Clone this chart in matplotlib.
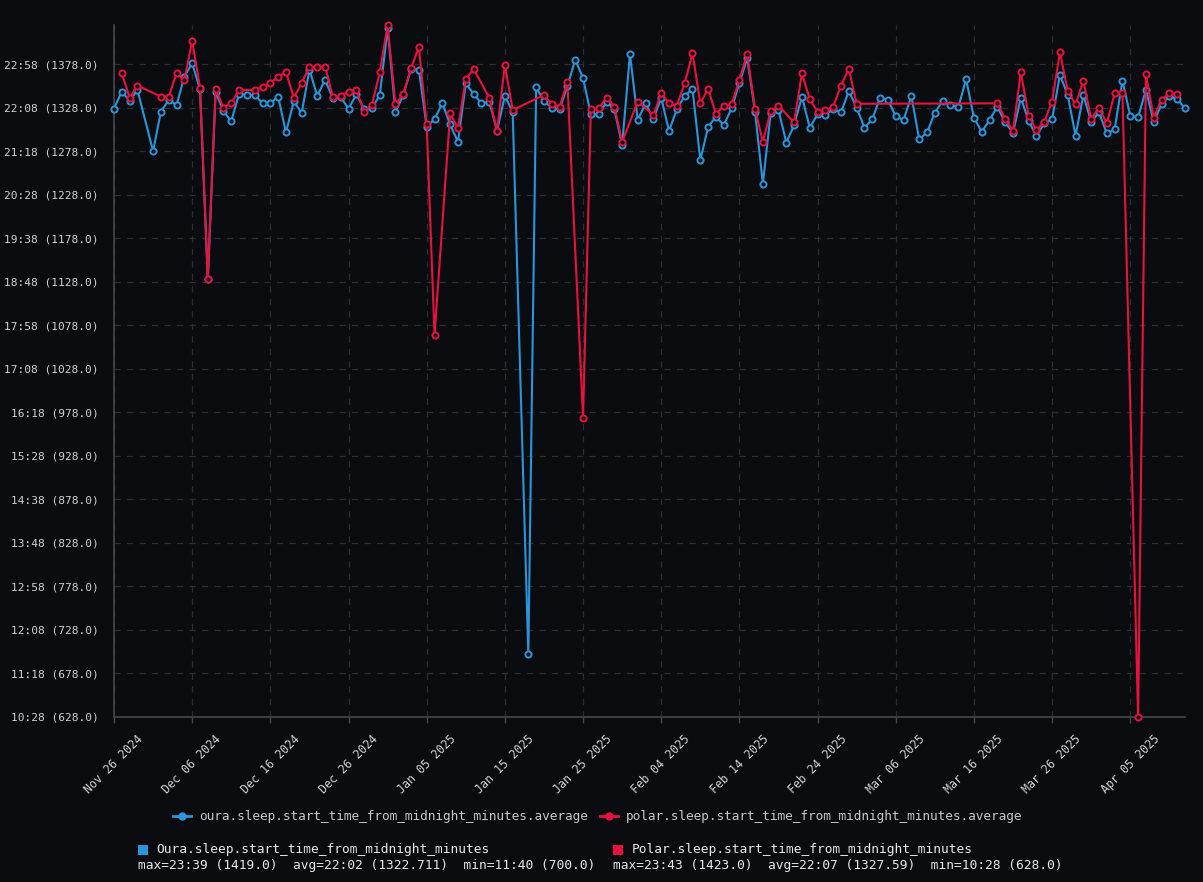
import matplotlib
matplotlib.use("Agg")
import matplotlib.pyplot as plt
from matplotlib.patches import Rectangle
from matplotlib.lines import Line2D
import numpy as np
import pandas as pd

START_DATE = "2024-11-26"
N_DAYS = 138

oura_values = [
    1327, 1346.5, 1335.7, 1348.4, None, 1278, 1323.4, 1336.8, 1331, 1363.8,
    1379, 1349, 1131, 1346.5, 1324, 1312.6, 1343.8, 1343, 1342.6, 1333,
    1333, 1340.7, 1299.5, 1335.7, 1321.5, 1371.5, 1341.5, 1360, 1338.8, 1340.7,
    1326.5, 1343.4, 1326.5, 1327.5, 1342.6, 1419, 1322.6, 1342.6, 1372.6, 1371.5,
    1306, 1314.9, 1333, 1308.8, 1288.8, 1356, 1343.8, 1333, 1334.9, 1301.5,
    1341.8, 1322.6, None, 700, 1351.5, 1335.7, 1328, 1326, 1353, 1383,
    1361.8, 1320.3, 1320.7, 1334.2, 1326.5, 1285, 1389.5, 1313.8, 1333, 1315,
    1339.5, 1301, 1326.5, 1341.5, 1349.5, 1267.6, 1306, 1317.6, 1308, 1327.2,
    1356, 1385, 1323.4, 1240.7, 1321.5, 1325.3, 1288, 1308, 1340.7, 1305,
    1320.3, 1319.5, 1326.5, 1322.6, 1347.2, 1328, 1305, 1315, 1339.5, 1336.8,
    1318.4, 1313.8, 1341.5, 1291.8, 1299.5, 1322.2, 1335.7, 1331, 1328.4, 1360.7,
    1316.5, 1300.3, 1313.8, 1329.2, 1311, 1299.2, 1339.5, 1312.6, 1295.7, 1310,
    1315, 1365.7, 1342.6, 1295.7, 1342.6, 1311.8, 1322.6, 1298.4, 1303, 1359.2,
    1318.4, 1316.9, 1348.4, 1311.8, 1331.8, 1341.5, 1338, 1327.2,
]

polar_values = [
    None, 1367.6, 1339.5, 1353.4, None, None, 1340.7, 1340.7, 1367.6, 1360,
    1405, 1351, 1131, 1349.5, 1328, 1333, 1348.4, None, 1348.4, 1352,
    1356, 1363.8, 1368.8, 1339.5, 1356, 1375.3, 1374.5, 1375.3, 1340.7, 1341.8,
    1346.5, 1348.4, 1323.4, 1331.5, 1368.8, 1423, 1331.8, 1343.4, 1373.4, 1397.6,
    1308.8, 1066.8, None, 1321.5, 1304.2, 1360.7, 1372.6, None, 1339.5, 1301.5,
    1377.2, 1325.3, None, None, None, 1342.6, 1331.8, 1329.2, 1357.2, None,
    971.4, 1326, 1327.2, 1339.5, 1329.2, 1288.8, None, 1335, None, 1319.5,
    1344.5, 1333, 1330.3, 1356, 1390.7, 1333, 1349.5, 1320.7, 1330.3, 1331.8,
    1360, 1389.5, 1326.5, 1288.8, 1324, 1330.3, None, 1311, 1367.6, 1337.6,
    1323.4, 1325.3, 1329.2, 1353.4, 1372.6, 1332.5, None, None, None, None,
    None, None, None, None, None, None, None, None, None, None,
    None, None, None, 1333, 1315, 1301.5, 1368.8, 1318.4, 1302.2, 1311.8,
    1335, 1391.8, 1347.2, 1331.8, 1358.8, 1315, 1328, 1310, 1344.5, 1344.5,
    None, 628, 1366.5, 1316.5, 1336.8, 1344.5, 1343.4, None,
]

series_labels = [
    "oura.sleep.start_time_from_midnight_minutes.average",
    "polar.sleep.start_time_from_midnight_minutes.average",
]
stats_titles = [
    "Oura.sleep.start_time_from_midnight_minutes",
    "Polar.sleep.start_time_from_midnight_minutes",
]
stats_lines = [
    "max=23:39 (1419.0)  avg=22:02 (1322.711)  min=11:40 (700.0)",
    "max=23:43 (1423.0)  avg=22:07 (1327.59)  min=10:28 (628.0)",
]

BG = "#0b0c0f"
BLUE = "#2a95da"
RED = "#e8113f"
TXT = "#d2d2d2"
GRID = "#2c2d31"
MONO = ["DejaVu Sans Mono"]

dates = pd.date_range(START_DATE, periods=N_DAYS, freq="D")
oura = pd.Series(oura_values, index=dates, dtype=float)
polar = pd.Series(polar_values, index=dates, dtype=float)

fig = plt.figure(figsize=(12.03, 8.82), dpi=100, facecolor=BG)
ax = fig.add_axes([114 / 1203, 1 - 717 / 882, (1185 - 114) / 1203, (717 - 25) / 882])
ax.set_facecolor(BG)

for s, c in ((oura, BLUE), (polar, RED)):
    s = s.dropna()
    ax.plot(s.index, s.values, color=c, lw=1.5, marker="o", ms=4.4,
            mfc=BG, mec=c, mew=1.4, zorder=3, clip_on=False)

ymin = float(np.nanmin([oura.min(), polar.min()]))
ymax = float(np.nanmax([oura.max(), polar.max()]))
ax.set_ylim(ymin, ymax)
ax.set_xlim(dates[0], dates[-1])

yt = np.arange(ymin, ymax - 30, 50)
ax.set_yticks(yt)
ax.set_yticklabels([f"{int(v // 60):02d}:{int(v % 60):02d} ({v:.1f})" for v in yt])

xt = pd.date_range(START_DATE, dates[-1], freq="10D")
ax.set_xticks(xt)
ax.set_xticklabels([d.strftime("%b %d %Y") for d in xt], rotation=45, ha="center")

for lab in ax.get_yticklabels():
    lab.set_fontfamily(MONO)
    lab.set_fontsize(8.0)
    lab.set_color(TXT)
for lab in ax.get_xticklabels():
    lab.set_fontfamily(MONO)
    lab.set_fontsize(8.4)
    lab.set_color(TXT)

ax.tick_params(axis="x", colors="#44464b", length=4, width=1, pad=7, labelcolor=TXT)
ax.tick_params(axis="y", length=0, pad=11, labelcolor=TXT)
ax.grid(True, color=GRID, linestyle=(0, (5, 5)), linewidth=0.9)
ax.set_axisbelow(True)
for side in ("top", "right"):
    ax.spines[side].set_visible(False)
for side in ("left", "bottom"):
    ax.spines[side].set_color("#44464b")
    ax.spines[side].set_linewidth(1.2)

handles = [
    Line2D([0], [0], color=BLUE, lw=2, marker="o", ms=5, mfc=BLUE, mec=BLUE),
    Line2D([0], [0], color=RED, lw=2, marker="o", ms=5, mfc=RED, mec=RED),
]
leg = fig.legend(handles, series_labels, loc="center", bbox_to_anchor=(0.497, 1 - 816.5 / 882),
                 ncol=2, frameon=False, handlelength=1.4, handletextpad=0.6,
                 columnspacing=1.0, prop={"family": MONO, "size": 9.2})
for t in leg.get_texts():
    t.set_color("#c8c8c8")

W, H = 1203, 882
for i, (x0, c) in enumerate(((137.5, BLUE), (613, RED))):
    fig.add_artist(Rectangle((x0 / W, 1 - 855 / H), 10 / W, 10 / H, transform=fig.transFigure,
                             facecolor=c, edgecolor="none"))
    fig.text((x0 + 18.5) / W, 1 - 850 / H, stats_titles[i], color="#e8e8e8",
             fontfamily=MONO, fontsize=9.25, va="center", ha="left")
    fig.text(x0 / W, 1 - 865.5 / H, stats_lines[i], color="#e8e8e8",
             fontfamily=MONO, fontsize=9.25, va="center", ha="left")

fig.savefig("out.png", dpi=100, facecolor=BG)
